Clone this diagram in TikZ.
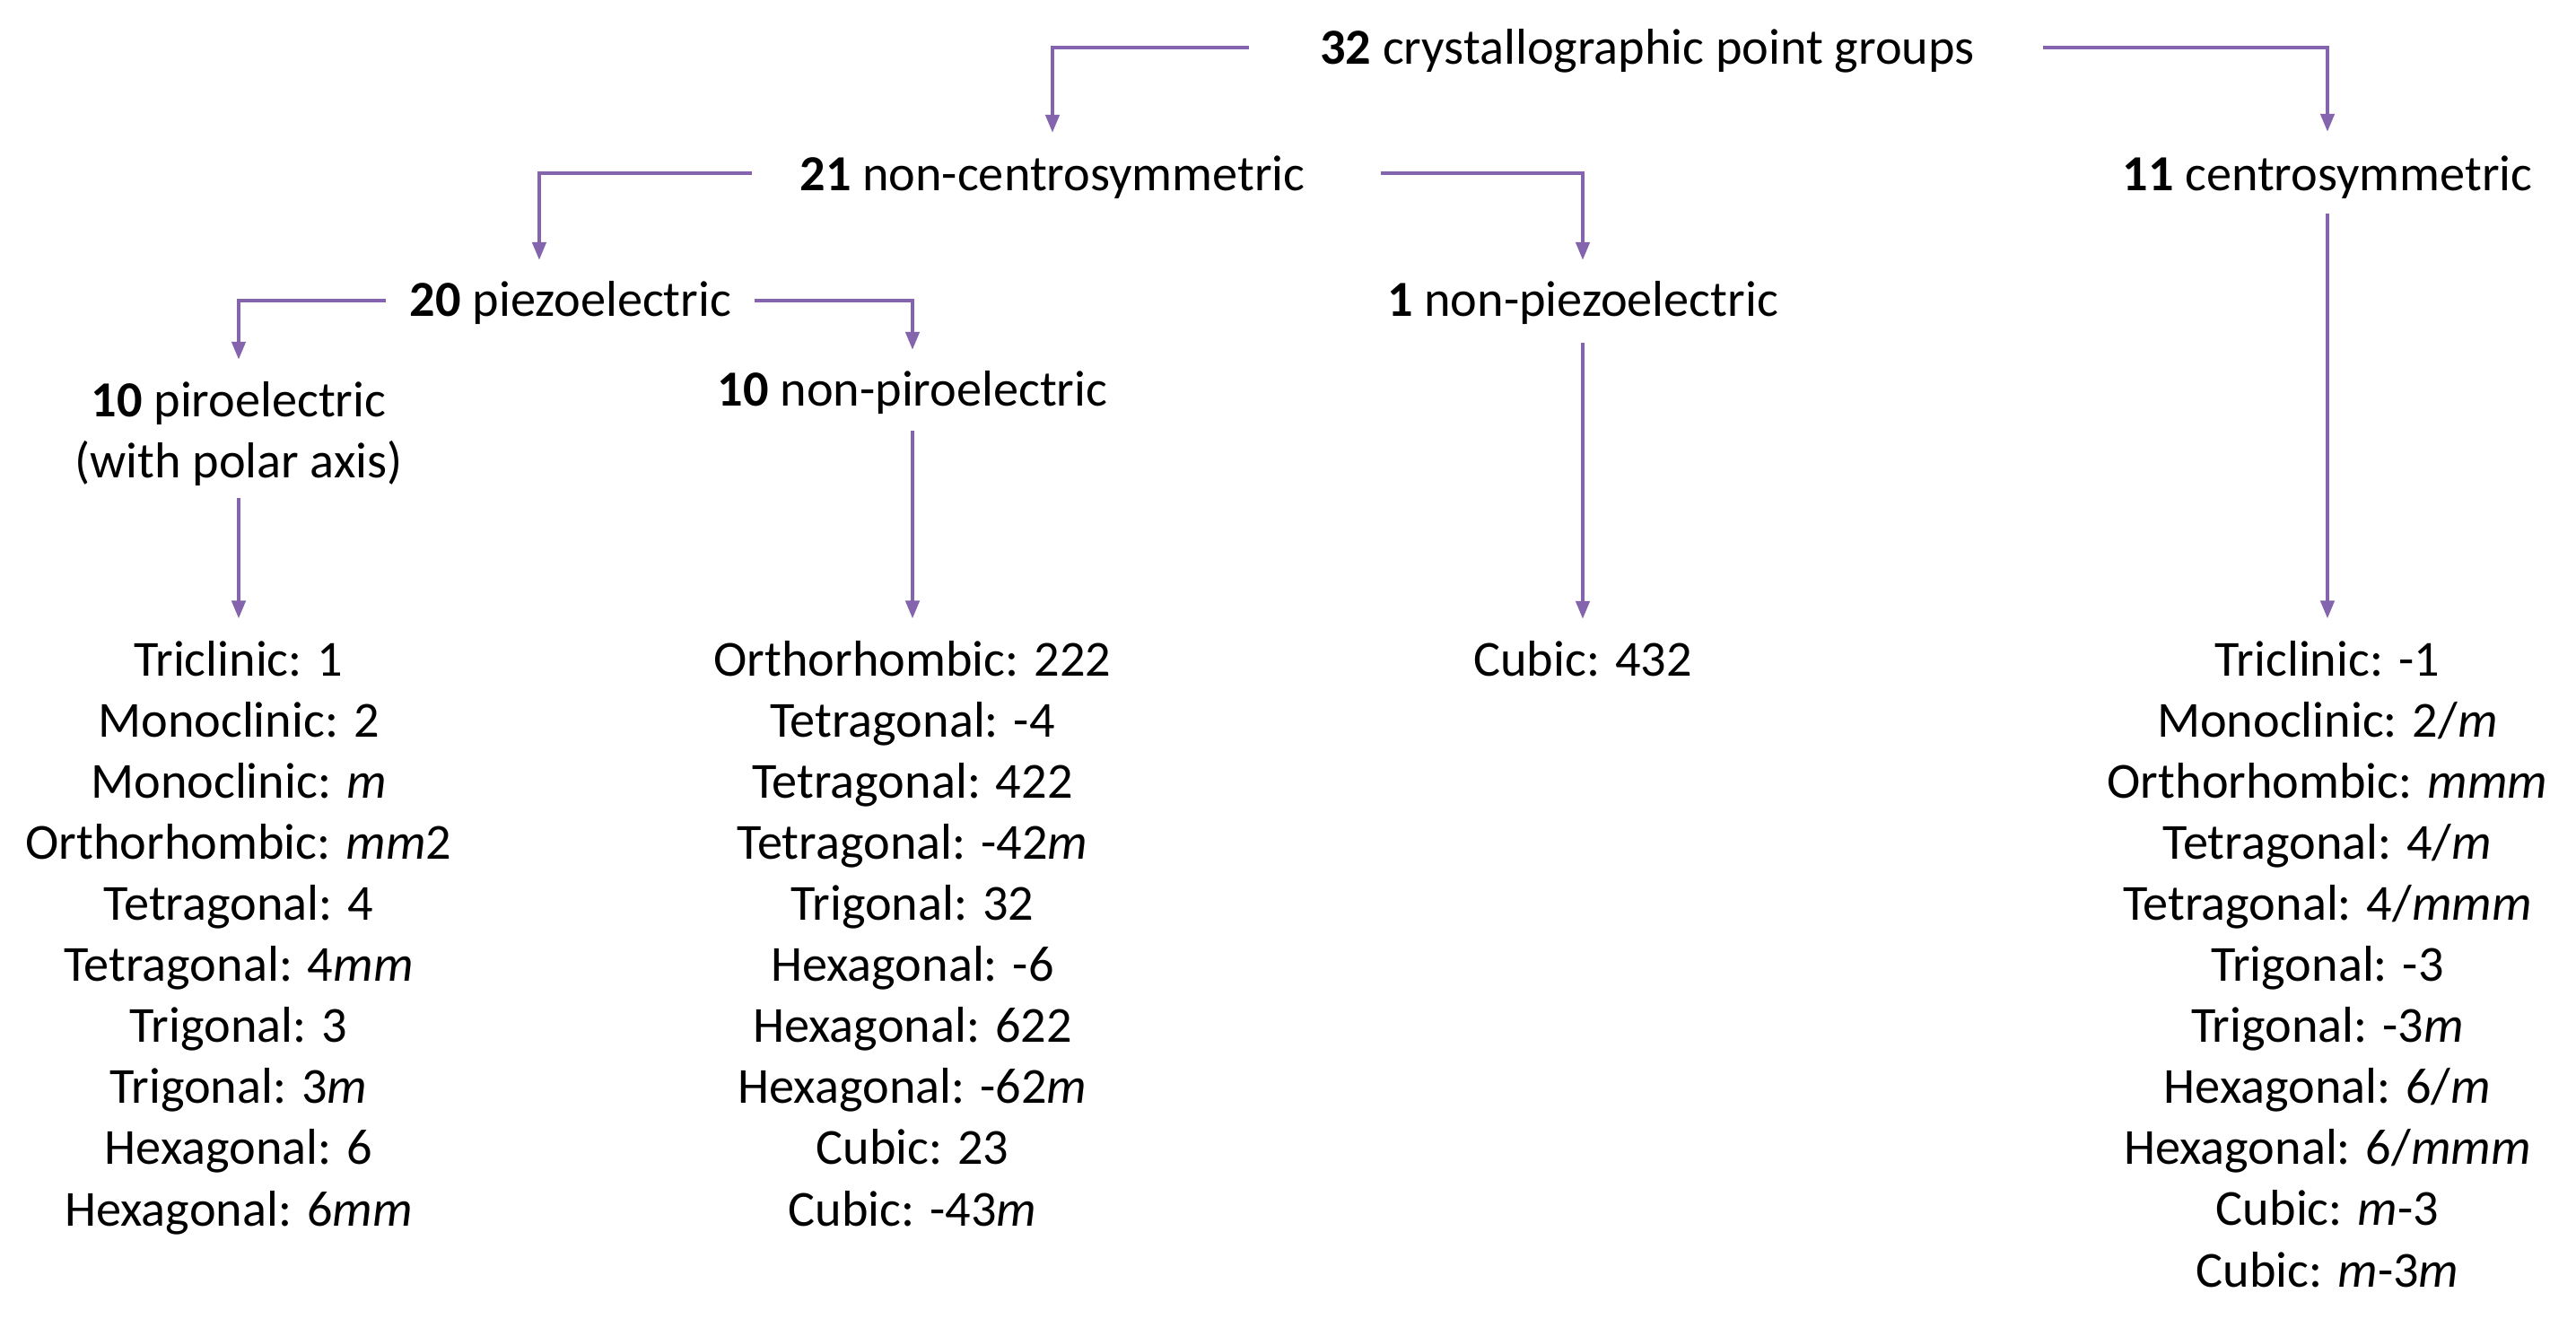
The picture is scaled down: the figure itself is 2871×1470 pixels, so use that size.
\documentclass[tikz,border=0pt]{standalone}
\usepackage{fontspec}
\setmainfont{Carlito}
\usetikzlibrary{arrows.meta}
\definecolor{lineviolet}{RGB}{132,100,172}
\begin{document}
\begin{tikzpicture}[x=0.01cm,y=-0.01cm,
  lbl/.style={inner sep=0pt, outer sep=0pt, anchor=base, font=\fontsize{16pt}{19.35pt}\selectfont},
  lst/.style={lbl, align=center},
  conn/.style={draw=lineviolet, line width=1.2pt, -{Triangle[length=0.2cm,width=0.15cm]}}
]
\fill[white] (0,0) rectangle (2871,1470);
\useasboundingbox (0,0) rectangle (2871,1470);

% multi-line nodes: base anchor = baseline of the last line
\node[lbl] (n32) at (1836,72) {\textbf{32} crystallographic point groups};
\node[lbl] (n21) at (1173,213) {\textbf{21} non-centrosymmetric};
\node[lbl] (n11) at (2594,213) {\textbf{11} centrosymmetric};
\node[lbl] (n20) at (636,353) {\textbf{20} piezoelectric};
\node[lbl] (n1) at (1764,353) {\textbf{1} non-piezoelectric};
\node[lst] (n10p) at (266,533) {\textbf{10} piroelectric\\(with polar axis)};
\node[lbl] (n10n) at (1017,453) {\textbf{10} non-piroelectric};

\node[lst] (l1) at (266,1366) {Triclinic: 1\\Monoclinic: 2\\Monoclinic: \textit{m}\\Orthorhombic: \textit{mm}2\\Tetragonal: 4\\Tetragonal: 4\textit{mm}\\Trigonal: 3\\Trigonal: 3\textit{m}\\Hexagonal: 6\\Hexagonal: 6\textit{mm}};
\node[lst] (l2) at (1017,1366) {Orthorhombic: 222\\Tetragonal: -4\\Tetragonal: 422\\Tetragonal: -42\textit{m}\\Trigonal: 32\\Hexagonal: -6\\Hexagonal: 622\\Hexagonal: -62\textit{m}\\Cubic: 23\\Cubic: -43\textit{m}};
\node[lst] (l3) at (1764,754) {Cubic: 432};
\node[lst] (l4) at (2594,1434) {Triclinic: -1\\Monoclinic: 2/\textit{m}\\Orthorhombic: \textit{mmm}\\Tetragonal: 4/\textit{m}\\Tetragonal: 4/\textit{mmm}\\Trigonal: -3\\Trigonal: -3\textit{m}\\Hexagonal: 6/\textit{m}\\Hexagonal: 6/\textit{mmm}\\Cubic: \textit{m}-3\\Cubic: \textit{m}-3\textit{m}};

\draw[conn] ([shift={(-0.79cm,0.19cm)}]n32.base west) -| ([yshift=0.65cm]n21.base);
\draw[conn] ([shift={(0.76cm,0.19cm)}]n32.base east) -| ([yshift=0.66cm]n11.base);
\draw[conn] ([shift={(-0.53cm,0.20cm)}]n21.base west) -| ([shift={(-0.35cm,0.63cm)}]n20.base);
\draw[conn] ([shift={(0.84cm,0.20cm)}]n21.base east) -| ([yshift=0.63cm]n1.base);
\draw[conn] ([shift={(-0.27cm,0.18cm)}]n20.base west) -| ([yshift=0.25cm]n10p.north);
\draw[conn] ([shift={(0.26cm,0.18cm)}]n20.base east) -| ([yshift=0.63cm]n10n.base);

\draw[conn] ([yshift=-0.13cm]n10p.south) -- ([yshift=0.25cm]l1.north);
\draw[conn] ([yshift=-0.27cm]n10n.base) -- ([yshift=0.25cm]l2.north);
\draw[conn] ([yshift=-0.29cm]n1.base) -- ([yshift=0.25cm]l3.north);
\draw[conn] ([yshift=-0.25cm]n11.base) -- ([yshift=0.25cm]l4.north);
\end{tikzpicture}
\end{document}
